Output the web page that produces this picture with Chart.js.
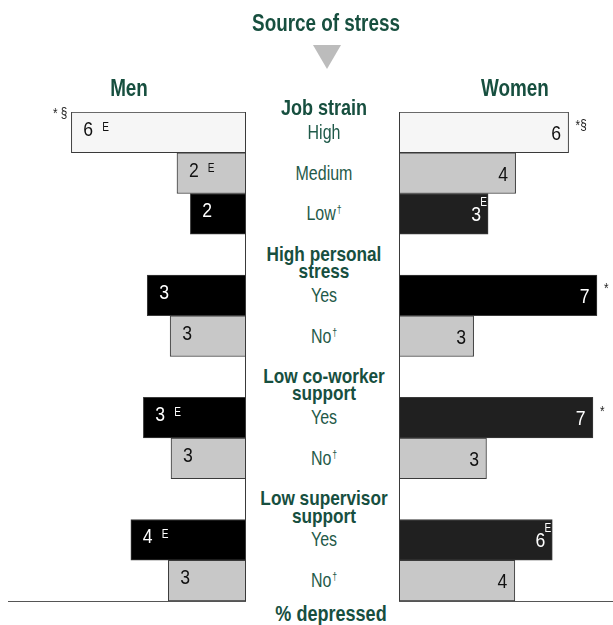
<!DOCTYPE html>
<html><head><meta charset="utf-8">
<script src="https://cdn.jsdelivr.net/npm/chart.js@4.4.0/dist/chart.umd.min.js"></script>
<style>
html,body{margin:0;padding:0;background:#fff;}
#wrap{position:relative;width:613px;height:625px;overflow:hidden;font-family:"Liberation Sans",Arial,sans-serif;color:#174f3f;}
.t{position:absolute;white-space:nowrap;transform:translate(-50%,-50%) scaleX(0.82);line-height:1;}
.b{font-weight:bold;font-size:21px;}
.r{font-size:20px;color:#1f5a49;transform:translate(-50%,-50%) scaleX(0.8);}
.dg{font-size:11px;position:relative;top:-7px;margin-left:1px;}
canvas{position:absolute;top:0;}
#tri{position:absolute;left:313px;top:45px;width:0;height:0;border-left:14px solid transparent;border-right:14px solid transparent;border-top:24px solid #bcbcbc;}
</style></head>
<body>
<div id="wrap">
  <canvas id="men" width="252" height="625" style="left:0"></canvas>
  <canvas id="women" width="223" height="625" style="left:390px"></canvas>
  <div id="tri"></div>
  <div id="labels"></div>
</div>
<script>
// ---- data ----
const categories = ['High','Medium','Low',['High personal','stress'],'Yes','No',['Low co-worker','support'],'Yes','No',['Low supervisor','support'],'Yes','No'];
const daggers    = [false,false,true,false,false,true,false,false,true,false,false,true];
const groupTitle = 'Job strain';
const menValues   = [5.87,2.32,1.87,null,3.32,2.55,null,3.45,2.52,null,3.87,2.61];
const womenValues = [6.34,4.36,3.33,null,7.40,2.79,null,7.25,3.27,null,5.73,4.33];
const menLabels   = ['6','2','2',null,'3','3',null,'3','3',null,'4','3'];
const womenLabels = ['6','4','3',null,'7','3',null,'7','3',null,'6','4'];
const menE   = [true,true,false,false,false,false,false,true,false,false,true,false];
const womenE = [false,false,true,false,false,false,false,false,false,false,true,false];
const menNotes   = ['* §','','','','','','','','','','',''];
const womenNotes = ['*§','','','','*','','','*','','','',''];
const axisMax = 8;

// ---- styles ----
const LIGHT='#f6f6f6', GRAY='#c8c8c8', BLACK='#000000', DARK='#202020';
const menColors   = [LIGHT,GRAY,BLACK,null,BLACK,GRAY,null,BLACK,GRAY,null,BLACK,GRAY];
const womenColors = [LIGHT,GRAY,DARK,null,BLACK,GRAY,null,DARK,GRAY,null,DARK,GRAY];
const FONT = '"Liberation Sans",Arial,sans-serif';
const SX = 0.84;

function drawT(ctx, text, x, y, align, font){
  ctx.save();
  ctx.font = font;
  ctx.textAlign = align;
  ctx.textBaseline = 'alphabetic';
  ctx.translate(x, y);
  ctx.scale(SX, 1);
  ctx.fillText(text, 0, 0);
  const w = ctx.measureText(text).width * SX;
  ctx.restore();
  return w;
}

const axisLines = {
  id:'axisLines',
  afterDatasetsDraw(chart){
    const {ctx, chartArea:a, scales:{x}} = chart;
    let x0 = Math.round(x.getPixelForValue(0));
    x0 = chart.options.scales.x.reverse ? x0 - 0.5 : x0 + 0.5;
    ctx.save();
    ctx.strokeStyle = '#3a3a3a'; ctx.lineWidth = 1;
    ctx.beginPath();
    ctx.moveTo(x0, a.top); ctx.lineTo(x0, a.bottom);
    ctx.stroke();
    ctx.strokeStyle = '#555';
    ctx.beginPath();
    ctx.moveTo(a.left, Math.round(a.bottom)+0.5); ctx.lineTo(a.right, Math.round(a.bottom)+0.5);
    ctx.stroke();
    ctx.restore();
  }
};

const barText = {
  id:'barText',
  afterDatasetsDraw(chart){
    const o = chart.options.plugins.barText;
    const ctx = chart.ctx;
    const meta = chart.getDatasetMeta(0);
    const colors = chart.data.datasets[0].backgroundColor;
    ctx.save();
    meta.data.forEach((bar,i)=>{
      const lab = o.labels[i];
      if(lab == null) return;
      const p = bar.getProps(['x','y','base','height'], true);
      const top = p.y - p.height/2;
      const dark = colors[i] === BLACK || colors[i] === DARK;
      ctx.fillStyle = dark ? '#ffffff' : '#111111';
      const numFont = '21px ' + FONT;
      if(o.side === 'left'){
        const base = p.y + 3.5;
        const lx = p.x + 12;
        const w = drawT(ctx, lab, lx, base, 'left', numFont);
        if(o.e[i]) drawT(ctx, 'E', lx + w + 9, base - 5, 'left', '12px ' + FONT);
        if(o.notes[i]){
          ctx.fillStyle = '#222';
          drawT(ctx, o.notes[i], p.x - 4, top + 6, 'right', '14px ' + FONT);
        }
      } else {
        const base = p.y + 7.5;
        if(o.e[i]){
          drawT(ctx, lab, p.x - 7, base, 'right', numFont);
          drawT(ctx, 'E', p.x - 1, base - 15, 'right', '12px ' + FONT);
        } else {
          drawT(ctx, lab, p.x - 7.5, base, 'right', numFont);
        }
        if(o.notes[i]){
          ctx.fillStyle = '#222';
          drawT(ctx, o.notes[i], p.x + 7, p.y - 2, 'left', '14px ' + FONT);
        }
      }
    });
    ctx.restore();
  }
};

function makeChart(id, values, colors, reverse, padding, labels, e, notes, side){
  return new Chart(document.getElementById(id), {
    type:'bar',
    data:{labels:categories, datasets:[{data:values, backgroundColor:colors, borderColor:'#3a3a3a', borderWidth:1, categoryPercentage:1, barPercentage:1}]},
    options:{
      indexAxis:'y', responsive:false, animation:false, devicePixelRatio:1,
      layout:{padding},
      scales:{x:{display:false, min:0, max:axisMax, reverse}, y:{display:false}},
      plugins:{legend:{display:false}, tooltip:{enabled:false}, barText:{labels, e, notes, side}}
    },
    plugins:[axisLines, barText]
  });
}

const menChart = makeChart('men', menValues, menColors, true, {left:8, right:6, top:112, bottom:24}, menLabels, menE, menNotes, 'left');
const womenChart = makeChart('women', womenValues, womenColors, false, {left:9, right:0, top:112, bottom:24}, womenLabels, womenE, womenNotes, 'right');

// ---- text labels ----
const L = document.getElementById('labels');
function addText(html, x, y, cls, size){
  const d = document.createElement('div');
  d.className = 't ' + cls;
  d.style.left = x + 'px'; d.style.top = y + 'px';
  if(size) d.style.fontSize = size + 'px';
  d.innerHTML = html;
  L.appendChild(d);
}
const cx = (menChart.chartArea.right + 390 + womenChart.chartArea.left) / 2;
addText('Source of stress', 326, 23, 'b', 23);
addText('Men', 129, 88, 'b', 23);
addText('Women', 515, 88, 'b', 23);
addText(groupTitle, cx + 1, menChart.chartArea.top - 4.5, 'b', 22);
const yS = menChart.scales.y;
categories.forEach((c,i)=>{
  const yc = yS.getPixelForValue(i);
  if(Array.isArray(c)){
    addText(c[0], cx + 1, yc - 1.8, 'b');
    addText(c[1], cx + 1, yc + 15.5, 'b');
  } else {
    addText(c + (daggers[i] ? '<span class="dg">†</span>' : ''), cx + 1, yc - 0.5, 'r');
  }
});
addText('% depressed', 331, 614, 'b', 22);
</script>
</body></html>
